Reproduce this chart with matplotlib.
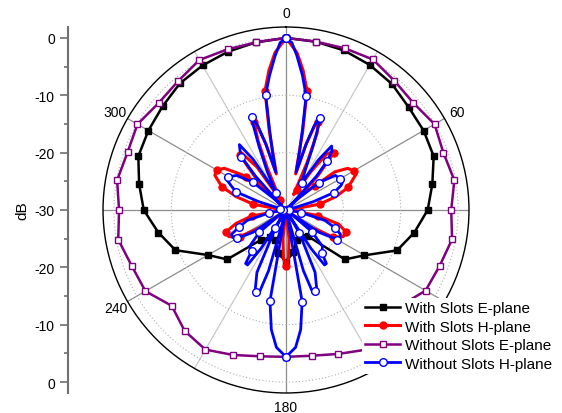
import numpy as np
import matplotlib
matplotlib.use("Agg")
import matplotlib.pyplot as plt
from matplotlib.ticker import FixedLocator

plt.rcParams["font.family"] = ["Liberation Sans", "DejaVu Sans"]

# E-plane cuts, one reading every 10 degrees (0..360)
e_angles = np.arange(0, 361, 10)
with_e = [0, -0.2, -0.4, -0.8, -1.3, -2.1, -2.3, -2.6, -4.1, -5.3,
          -7.3, -9.4, -14.2, -16.6, -24.0, -24.5, -24.5, -22.5, -21.0,
          -22.3, -24.5, -24.5, -23.2, -16.6, -14.3, -9.5, -7.4, -5.2,
          -4.0, -2.6, -2.3, -1.9, -1.2, -0.9, -0.6, -0.3, 0]
without_e = [0, -0.2, 0, 0.3, -0.6, -1.0, -0.1, -0.8, -0.2, -1.2,
             -0.6, -1.5, -1.9, -4.0, -2.5, -1.9, -3.3, -4.2, -4.4,
             -4.1, -3.1, -1.9, -2.5, -4.0, -1.7, -1.4, -0.3, -0.9,
             -0.1, -0.6, -0.1, -1.0, -0.7, 0.2, -0.2, -0.3, 0]

# H-plane cuts: 10-degree readings plus lobe peaks and nulls
with_h_angles = [0, 4, 7, 10, 12, 15, 17, 19, 20, 22, 24, 26, 30, 33, 36, 39,
                 40, 43, 45, 48, 50, 52, 56, 60, 63, 70, 75, 80, 84, 90, 95,
                 100, 105, 110, 115, 120, 125, 128, 130, 140, 150, 160, 170,
                 174, 177, 180, 183, 186, 190, 200, 210, 220, 230, 232, 235,
                 240, 245, 250, 255, 260, 265, 270, 276, 280, 285, 290, 296,
                 300, 304, 308, 310, 313, 315, 317, 320, 322, 326, 329, 330,
                 336, 338, 340, 341, 343, 345, 348, 350, 353, 356, 360]
with_h = [0, -2.5, -5.5, -8.9, -16, -23.5, -18, -13.8, -13.6, -15.5, -21, -27,
          -26, -22, -18, -16.8, -17.1, -22, -27, -25.5, -23.4, -19.2, -17,
          -16.4, -16.3, -18.5, -21, -24, -29, -30, -29, -24.4, -20.5, -18.9,
          -19, -20.5, -25, -29, -30, -29.5, -29.5, -29.5, -30, -25, -21.5,
          -20.3, -21.5, -25, -30, -28.5, -28.5, -29.5, -30, -29, -25, -20.7,
          -19, -18.9, -21, -23.9, -29, -30, -29, -24.2, -21, -18.1, -16.2,
          -16.1, -17, -19.8, -21, -23, -27, -22, -17.5, -17.3, -21, -27, -28,
          -22, -17, -13.6, -13.8, -18, -23.5, -16, -8.9, -5.5, -2.5, 0]

without_h_angles = [0, 2, 4, 7, 10, 11.5, 13, 15, 17, 18.5, 20, 21, 23, 26,
                    30, 33, 35.5, 38, 40, 42, 45, 47, 50, 55, 60, 62, 66, 70,
                    73, 76, 80, 90, 100, 105, 110, 114, 117, 120, 124, 127, 130,
                    135, 140, 143, 145, 147, 149, 150, 155, 159, 160, 162, 164,
                    165.5, 168, 170, 173, 176, 180, 184, 187, 190, 192, 194.5,
                    196, 198, 200, 201, 205, 210, 211, 213, 215, 217, 220, 225,
                    230, 233, 236, 240, 243, 246, 250, 255, 260, 270, 280, 284,
                    287, 290, 294, 298, 300, 305, 310, 313, 315, 318, 320, 322,
                    324.5, 327, 330, 334, 337, 339, 340, 341.5, 343, 345, 347,
                    348.5, 350, 353, 356, 358, 360]
without_h = [0, -0.8, -3.0, -6.4, -9.8, -15.5, -19.5, -23.2, -18, -14.5,
             -12.9, -13.8, -18, -22.5, -24.5, -19.5, -16.3, -17, -18.8, -22,
             -29, -27, -22.6, -19.5, -19.1, -18.6, -19.5, -21.1, -25, -29,
             -29.5, -29.5, -27.3, -23, -20.9, -19.6, -19.5, -19.7, -23, -29,
             -24.1, -21, -20.3, -18.3, -18.3, -22, -29, -25.3, -18, -15,
             -15.0, -14.8, -19, -29, -29, -13.8, -9, -6, -4.4, -6, -9, -13.9,
             -29, -29, -19, -14.8, -14.8, -15, -18, -26.3, -29, -22, -18.3,
             -18.3, -20.7, -21, -23.9, -29, -23, -20.1, -19.5, -19.6, -21.3,
             -23, -27.0, -29.5, -29, -29, -25, -20.7, -19.5, -18, -18.4,
             -19.5, -22.5, -27, -29, -22, -17.9, -17, -16, -19.5, -26.5,
             -22.5, -18, -13.8, -12.8, -14.5, -18, -23.2, -19.5, -15.5, -9.6,
             -6.4, -3.0, -0.8, 0]

labels = ["With Slots E-plane", "With Slots H-plane",
          "Without Slots E-plane", "Without Slots H-plane"]

r_min, r_max = -30, 1.9

fig = plt.figure(figsize=(5.62, 4.14), dpi=100)
ax = fig.add_axes([0.1833, 0.0483, 0.6512, 0.8841], projection="polar")
ax.set_theta_zero_location("N")
ax.set_theta_direction(-1)
ax.set_rlim(r_min, r_max)

major = [0, 60, 90, 120, 180, 240, 270, 300]
ax.set_xticks(np.radians(major))
ax.set_xticklabels(["" if a in (90, 270) else str(a) for a in major])
ax.xaxis.set_minor_locator(FixedLocator(np.radians([30, 150, 210, 330])))
ax.grid(True, which="major", axis="x", color="#8c8c8c", lw=0.9, ls="-")
ax.grid(True, which="minor", axis="x", color="#c8c8c8", lw=0.9, ls="-")
ax.tick_params(axis="x", which="major", direction="inout", length=6,
               pad=0, labelsize=10)
ax.tick_params(axis="x", which="minor", length=0)
ax.set_yticks([-20, -10, 0])
ax.set_yticklabels([])
ax.grid(True, axis="y", color="#b0b0b0", ls=(0, (1, 2)), lw=0.8)
ax.spines["polar"].set_linewidth(1.0)

series = [
    (e_angles, with_e, "black", "s", "black", 4.5, 1.8),
    (with_h_angles, with_h, "red", "o", "red", 5, 2.2),
    (e_angles, without_e, "#800080", "s", "white", 5, 1.8),
    (without_h_angles, without_h, "blue", "o", "white", 5.5, 2.0),
]
for (ang, val, color, marker, face, ms, lw), label in zip(series, labels):
    ang = np.asarray(ang, dtype=float)
    marks = np.flatnonzero(ang % 10 == 0).tolist()
    ax.plot(np.radians(ang), val, color=color, lw=lw, marker=marker,
            ms=ms, mfc=face, mec=color, mew=1.0, markevery=marks,
            label=label, clip_on=False)

# linear dB scale drawn on the left, mirrored about the centre
ax_db = fig.add_axes([68 / 562, 0.0483, 0.0001, 0.8841])
ax_db.set_ylim(-(r_max - r_min), r_max - r_min)
for side in ("top", "right", "bottom"):
    ax_db.spines[side].set_visible(False)
ax_db.spines["left"].set_color("#707070")
ax_db.spines["left"].set_linewidth(1.5)
ax_db.set_xticks([])
db_levels = [-30, -20, -10, 0]
pos = sorted({s * (v - r_min) for v in db_levels for s in (-1, 1)})
ax_db.set_yticks(pos)
ax_db.set_yticklabels([f"{abs(p) + r_min:g}" for p in pos])
ax_db.yaxis.set_minor_locator(FixedLocator([-25, -15, -5, 5, 15, 25]))
ax_db.tick_params(axis="y", which="major", length=6, width=1.2,
                  color="#707070", labelsize=10)
ax_db.tick_params(axis="y", which="minor", length=3, width=1.2,
                  color="#707070")
ax_db.set_ylabel("dB", fontsize=11, labelpad=4)

fig.legend(loc="upper left", bbox_to_anchor=(362 / 562, 1 - 299 / 414),
           frameon=True, facecolor="white", edgecolor="none", framealpha=1,
           fancybox=False, fontsize=11, handlelength=2.3, handletextpad=0.3,
           labelspacing=0.3, borderpad=0.2, borderaxespad=0)

fig.savefig("out.png", dpi=100)
